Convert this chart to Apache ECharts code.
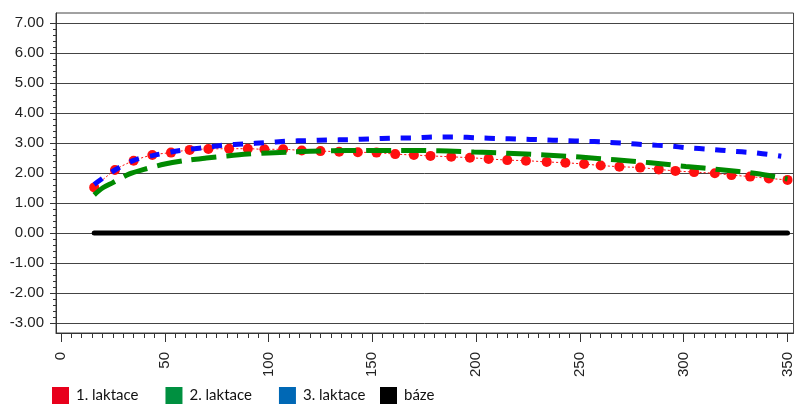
<!DOCTYPE html>
<html>
<head>
<meta charset="utf-8">
<script src="https://cdn.jsdelivr.net/npm/echarts@6/dist/echarts.min.js"></script>
<style>
html,body{margin:0;padding:0;background:#fff;}
#chart{width:795px;height:405px;}
</style>
</head>
<body>
<div id="chart"></div>
<script>
// ---- data ----
var seriesNames = ['1. laktace', '2. laktace', '3. laktace', 'báze'];

var redDays = [16,26,35,44,53,62,71,81,90,98,107,116,125,134,143,152,161,170,178,188,197,206,215,224,234,243,252,260,269,279,288,296,305,315,323,332,341,350];
var redVals = [1.52,2.10,2.41,2.60,2.68,2.77,2.80,2.81,2.81,2.79,2.79,2.75,2.73,2.71,2.69,2.68,2.63,2.60,2.57,2.54,2.51,2.47,2.43,2.41,2.37,2.34,2.30,2.25,2.21,2.18,2.12,2.07,2.03,1.99,1.93,1.88,1.82,1.77];

var greenDays = [16,20,25,33,40,50,60,70,80,90,100,111,129,147,164,182,199,215,233,250,267,284,301,318,335,350];
var greenVals = [1.27,1.50,1.68,1.97,2.12,2.30,2.42,2.50,2.57,2.63,2.67,2.70,2.74,2.75,2.75,2.74,2.70,2.66,2.60,2.53,2.44,2.34,2.22,2.11,1.98,1.80];

var blueDays = [16,26,35,44,53,62,71,78,89,98,109,119,129,139,150,159,170,180,190,201,211,221,231,243,252,262,272,282,293,302,313,323,333,343,347];
var blueVals = [1.62,2.10,2.42,2.58,2.70,2.79,2.86,2.93,2.97,3.01,3.06,3.08,3.10,3.11,3.14,3.16,3.17,3.20,3.20,3.17,3.15,3.13,3.11,3.08,3.06,3.03,2.99,2.94,2.90,2.84,2.79,2.73,2.68,2.60,2.56];

var baseDays = [16, 350];
var baseVals = [0, 0];

var xMajorTicks = [0,50,100,150,200,250,300,350];
var yMajorTicks = [-3,-2,-1,0,1,2,3,4,5,6,7];
var xMinorTicks = [];
for (var i = 0; i <= 350; i += 5) xMinorTicks.push(i);
var yMinorTicks = [];
for (var j = -15; j <= 35; j++) yMinorTicks.push(Math.round(j * 20) / 100);

function pairs(xs, ys) { return xs.map(function (x, k) { return [x, ys[k]]; }); }

var chart = echarts.init(document.getElementById('chart'), null, {renderer: 'canvas'});
var axisColor = '#333';
var legendBase = {
  top: 387, padding: 0, itemWidth: 17, itemHeight: 17, itemGap: 27, icon: 'rect',
  selectedMode: false,
  itemStyle: {borderWidth: 0},
  textStyle: {fontFamily: 'Lato', fontSize: 15, color: '#111', padding: [0, 0, 0, 2]}
};
var option = {
  animation: false,
  backgroundColor: '#fff',
  grid: {left: 56, top: 13, right: -2, bottom: 72, show: true, borderColor: '#444', borderWidth: 1, backgroundColor: 'transparent', containLabel: false},
  legend: [
    Object.assign({}, legendBase, {left: 52, data: [
      {name: seriesNames[0], itemStyle: {color: '#e8001c'}},
      {name: seriesNames[1], itemStyle: {color: '#009040'}},
      {name: seriesNames[2], itemStyle: {color: '#0068b5'}}
    ]}),
    Object.assign({}, legendBase, {left: 380, data: [
      {name: seriesNames[3], itemStyle: {color: '#000000'}}
    ]})
  ],
  xAxis: [
    {type: 'value', min: -2.4, max: 352.9, position: 'bottom',
     axisLine: {show: true, onZero: false, lineStyle: {color: axisColor}},
     axisTick: {show: true, customValues: xMajorTicks, length: 9, lineStyle: {color: axisColor}},
     axisLabel: {customValues: xMajorTicks, rotate: 90, margin: 19, fontSize: 15, color: '#222', fontFamily: 'Liberation Sans'},
     splitLine: {show: false}},
    {type: 'value', min: -2.4, max: 352.9, position: 'bottom',
     axisLine: {show: false, onZero: false},
     axisTick: {show: true, customValues: xMinorTicks, length: 5, lineStyle: {color: axisColor}},
     axisLabel: {show: false},
     splitLine: {show: false}}
  ],
  yAxis: [
    {type: 'value', min: -3.3333, max: 7.3333, position: 'left',
     axisLine: {show: true, onZero: false, lineStyle: {color: axisColor}},
     axisTick: {show: true, customValues: yMajorTicks, length: 6, lineStyle: {color: axisColor}},
     axisLabel: {customValues: yMajorTicks, margin: 12, fontSize: 15, color: '#222', fontFamily: 'Liberation Sans',
                 formatter: function (v) { return v.toFixed(2); }},
     splitLine: {show: true, lineStyle: {color: '#444', width: 1}}},
    {type: 'value', min: -3.3333, max: 7.3333, position: 'left',
     axisLine: {show: false, onZero: false},
     axisTick: {show: true, customValues: yMinorTicks, length: 3, lineStyle: {color: axisColor}},
     axisLabel: {show: false},
     splitLine: {show: false}}
  ],
  series: [
    {name: seriesNames[0], type: 'line', data: pairs(redDays, redVals), smooth: 0.3,
     symbol: 'circle', symbolSize: 10, itemStyle: {color: '#ff1010'},
     lineStyle: {color: '#ff1010', width: 1, type: [2, 2]}, emphasis: {disabled: true}, z: 2},
    {name: seriesNames[1], type: 'line', data: pairs(greenDays, greenVals), smooth: 0.3,
     showSymbol: false, symbol: 'none', itemStyle: {color: '#008a00'},
     lineStyle: {color: '#008a00', width: 5, type: [25, 10], cap: 'butt'}, emphasis: {disabled: true}, z: 3},
    {name: seriesNames[2], type: 'line', data: pairs(blueDays, blueVals), smooth: 0.3,
     showSymbol: false, symbol: 'none', itemStyle: {color: '#0a0aff'},
     lineStyle: {color: '#0a0aff', width: 5, type: [10, 11], cap: 'butt'}, emphasis: {disabled: true}, z: 4},
    {name: seriesNames[3], type: 'line', data: pairs(baseDays, baseVals),
     showSymbol: false, symbol: 'none', itemStyle: {color: '#000'},
     lineStyle: {color: '#000', width: 5, cap: 'round'}, emphasis: {disabled: true}, z: 5}
  ]
};
chart.setOption(option);
</script>
</body>
</html>
